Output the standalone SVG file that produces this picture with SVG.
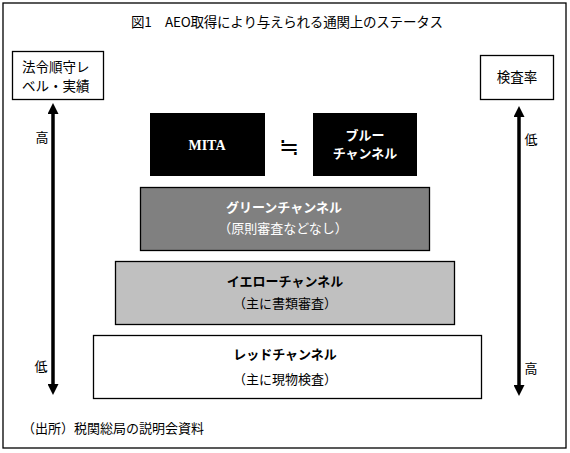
<svg xmlns="http://www.w3.org/2000/svg" width="570" height="453" viewBox="0 0 570 453">
<defs>
<style>
.j{font-family:"Noto Sans CJK JP","Liberation Sans",sans-serif;font-size:13px;fill:#000;}
.b{font-weight:bold;}
.m{text-anchor:middle;}
.w{fill:#fff;}
.box{stroke:#000;stroke-width:1.3;}
</style>
<marker id="ah" viewBox="0 0 12 11" refX="1" refY="5.5" markerWidth="12" markerHeight="11" markerUnits="userSpaceOnUse" orient="auto-start-reverse">
<path d="M0,0 L11,5.5 L0,11 Z" fill="#000"/>
</marker>
</defs>
<rect x="3" y="3" width="563" height="445" fill="#fff" stroke="#000" stroke-width="1.3"/>
<text id="title" class="j m" x="287" y="27" style="font-size:13.5px" textLength="312" lengthAdjust="spacing">図1　AEO取得により与えられる通関上のステータス</text>

<g id="left-label">
<rect class="box" x="12.5" y="51.5" width="91" height="48" fill="#fff"/>
<text class="j" x="22" y="72" style="font-size:13.5px">法令順守レ</text>
<text class="j" x="22" y="91" style="font-size:13.5px">ベル・実績</text>
</g>
<g id="right-label">
<rect class="box" x="480.5" y="55.5" width="73" height="44" fill="#fff"/>
<text class="j m" x="517" y="82" style="font-size:13.5px">検査率</text>
</g>

<g id="connectors">
<line x1="53" y1="113" x2="53" y2="385" stroke="#000" stroke-width="3.5" marker-start="url(#ah)" marker-end="url(#ah)"/>
<line x1="519" y1="116" x2="519" y2="386" stroke="#000" stroke-width="3.5" marker-start="url(#ah)" marker-end="url(#ah)"/>
</g>
<text class="j m" x="42" y="142">高</text>
<text class="j m" x="41" y="371">低</text>
<text class="j m" x="531" y="144">低</text>
<text class="j m" x="531" y="373">高</text>

<g id="mita">
<rect x="150" y="113" width="115" height="63" fill="#000"/>
<text class="m b w" x="207" y="150" font-family="Liberation Serif, serif" font-size="14">MITA</text>
</g>
<text id="approx" class="j m" x="289" y="155" style="font-size:24px">≒</text>
<g id="blue">
<rect x="313" y="113" width="104" height="63" fill="#000"/>
<text class="j m b w" x="365" y="140">ブルー</text>
<text class="j m b w" x="365" y="158">チャンネル</text>
</g>
<g id="green">
<rect class="box" x="140.5" y="187.5" width="289" height="63" fill="#808080"/>
<text class="j m b w" x="284" y="212">グリーンチャンネル</text>
<text class="j m w" x="283" y="233">（原則審査などなし）</text>
</g>
<g id="yellow">
<rect class="box" x="115.5" y="261.5" width="339" height="63" fill="#c0c0c0"/>
<text class="j m b" x="285" y="286">イエローチャンネル</text>
<text class="j m" x="285" y="308">（主に書類審査）</text>
</g>
<g id="red">
<rect class="box" x="93.5" y="335.5" width="388" height="63" fill="#fff"/>
<text class="j m b" x="285" y="359">レッドチャンネル</text>
<text class="j m" x="285" y="384">（主に現物検査）</text>
</g>
<text id="source" class="j" x="22" y="433">（出所）税関総局の説明会資料</text>
</svg>
